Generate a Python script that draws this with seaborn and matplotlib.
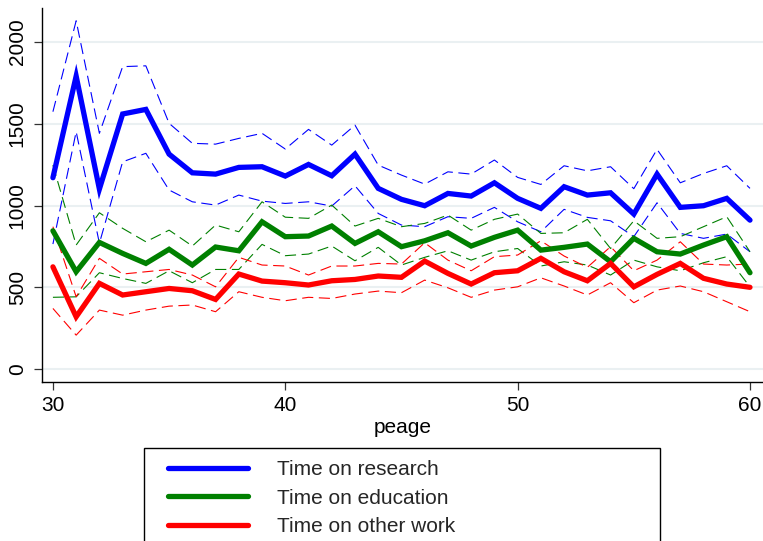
import matplotlib
matplotlib.use("Agg")
import matplotlib.pyplot as plt
from matplotlib.patches import Rectangle
from matplotlib.lines import Line2D
import seaborn as sns
import pandas as pd

ages = list(range(30, 61))

research = [1170, 1790, 1101, 1559, 1587, 1314, 1200, 1192, 1233, 1237, 1180,
            1251, 1182, 1314, 1105, 1038, 999, 1074, 1058, 1139, 1044,
            983, 1115, 1064, 1078, 948, 1192, 989, 999, 1044, 911]
research_hi = [1573, 2128, 1441, 1848, 1853, 1502, 1380, 1375, 1410, 1441, 1345,
               1465, 1369, 1491, 1247, 1186, 1131, 1206, 1192, 1278, 1172,
               1129, 1243, 1212, 1237, 1103, 1343, 1139, 1196, 1243, 1105]
research_lo = [765, 1451, 770, 1267, 1319, 1095, 1023, 1003, 1064, 1027, 1013,
               1023, 997, 1121, 952, 881, 871, 932, 922, 989, 901,
               840, 977, 928, 907, 810, 1017, 830, 800, 826, 718]

education = [846, 596, 775, 708, 647, 733, 637, 747, 724, 901, 810,
             814, 875, 769, 840, 749, 785, 834, 753, 806, 850,
             728, 745, 765, 657, 800, 718, 704, 759, 810, 590]
education_hi = [1247, 759, 956, 861, 779, 850, 753, 881, 840, 1023, 929,
                922, 1003, 875, 922, 871, 891, 942, 850, 916, 948,
                830, 834, 916, 738, 907, 800, 810, 871, 932, 718]
education_lo = [440, 443, 590, 555, 525, 602, 529, 610, 610, 763, 694,
                704, 753, 663, 745, 637, 684, 724, 667, 718, 738,
                631, 657, 637, 576, 667, 626, 602, 651, 688, 504]

other = [626, 321, 525, 454, 474, 494, 480, 427, 582, 539, 529,
         515, 541, 549, 570, 562, 661, 586, 521, 590, 602,
         678, 596, 541, 647, 504, 580, 647, 556, 521, 501]
other_hi = [871, 443, 678, 582, 596, 610, 576, 504, 684, 637, 631,
            576, 631, 631, 647, 643, 773, 667, 602, 688, 698,
            785, 692, 623, 749, 602, 667, 779, 643, 637, 643]
other_lo = [372, 209, 362, 331, 362, 386, 393, 352, 474, 440, 419,
            440, 433, 460, 478, 468, 545, 498, 440, 484, 504,
            559, 509, 454, 529, 407, 484, 509, 474, 413, 352]

labels = ["Time on research", "Time on education", "Time on other work"]
colors = ["#0000FF", "#008000", "#FF0000"]
yticks = [0, 500, 1000, 1500, 2000]
xticks = [30, 40, 50, 60]

sns.set_theme(style="white")
plt.rcParams['font.family'] = ['Liberation Sans', 'DejaVu Sans']

fig = plt.figure(figsize=(7.63, 5.41), dpi=100)
ax = fig.add_axes([42 / 763, 1 - 382 / 541, 1 - 42 / 763, (382 - 8) / 541])

series = [(research, research_hi, research_lo),
          (education, education_hi, education_lo),
          (other, other_hi, other_lo)]

for (mid, hi, lo), col in zip(series, colors):
    for band in (hi, lo):
        sns.lineplot(x=ages, y=band, ax=ax, color=col, lw=0.8,
                     linestyle=(0, (10, 5)), zorder=2)
for (mid, hi, lo), col in zip(series, colors):
    sns.lineplot(x=ages, y=mid, ax=ax, color=col, lw=3.8, zorder=3,
                 solid_joinstyle='miter')

ax.set_xlim(29.53, 60.56)
ax.set_ylim(-77, 2206)
ax.set_yticks(yticks)
ax.set_xticks(xticks)
ax.set_yticklabels([str(v) for v in yticks], rotation=90, va='center')
ax.grid(axis='y', color='#EAF0F2', lw=1.5, zorder=0)
ax.grid(axis='x', visible=False)
for s in ['top', 'right']:
    ax.spines[s].set_visible(False)
for s in ['left', 'bottom']:
    ax.spines[s].set_color('black')
    ax.spines[s].set_linewidth(1.0)
ax.tick_params(axis='both', which='both', direction='out', length=6, width=0.9,
               color='#333333', labelsize=15, labelcolor='black')
ax.tick_params(axis='y', pad=5)
ax.tick_params(axis='x', pad=4, bottom=True)
ax.tick_params(axis='y', left=True)
ax.set_xlabel("peage", fontsize=15, labelpad=2, color='black')
ax.set_ylabel("")

# legend box
fig.patches.append(Rectangle((143.5 / 763, -0.05), (660 - 143.5) / 763,
                             0.05 + (541 - 448) / 541,
                             transform=fig.transFigure, fill=False,
                             edgecolor='black', lw=1.0))
handles = [Line2D([], [], color=c, lw=3.8, solid_capstyle='round') for c in colors]
fig.legend(handles, labels, loc='upper left',
           bbox_to_anchor=(160 / 763, 1 - 452 / 541),
           frameon=False, fontsize=15, handlelength=3.8, handletextpad=1.4,
           labelspacing=0.45, borderaxespad=0)

fig.savefig("out.png", dpi=100)
